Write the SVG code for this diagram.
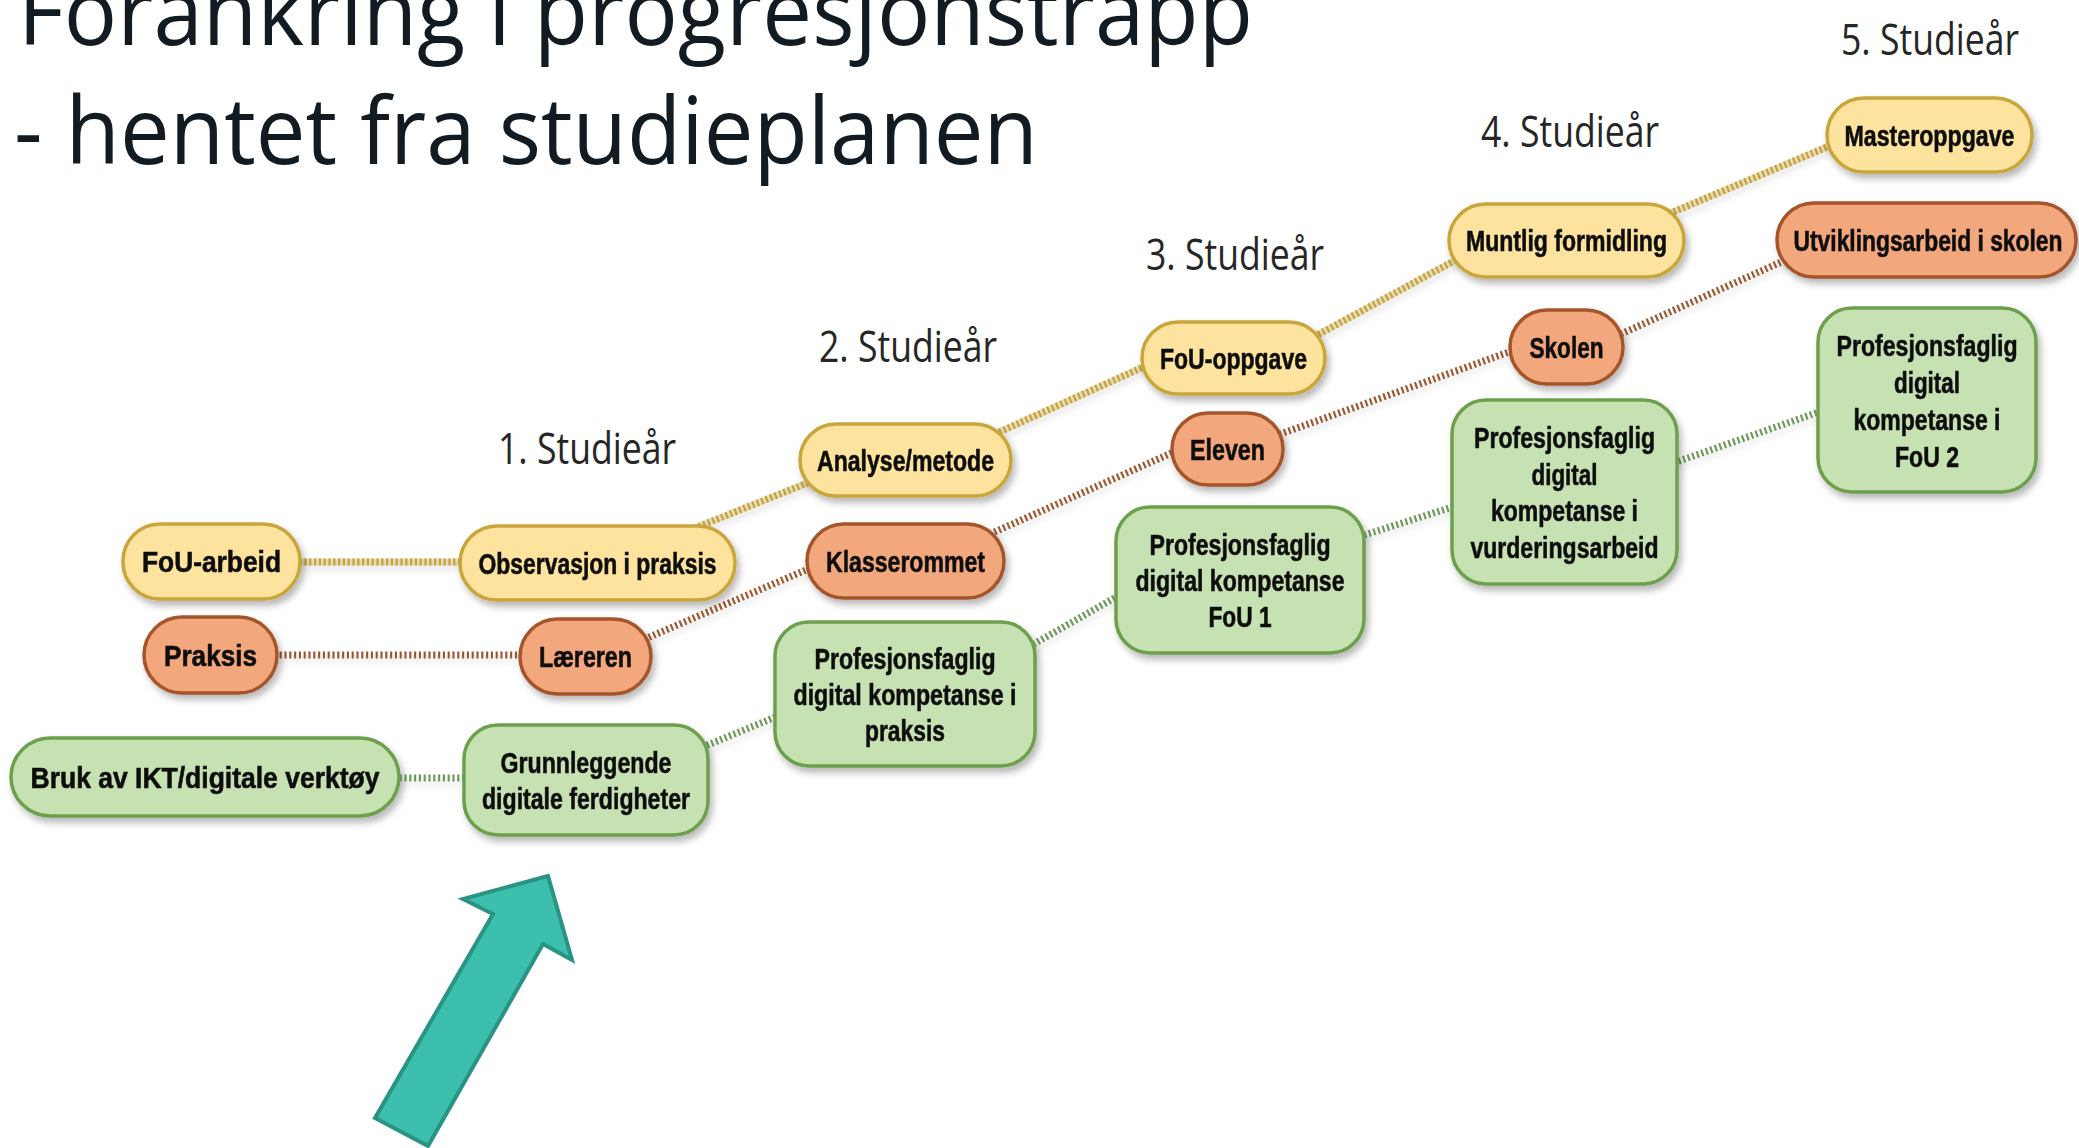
<svg xmlns="http://www.w3.org/2000/svg" width="2079" height="1148" viewBox="0 0 2079 1148">
<defs>
<style>
.title{font-family:"Open Sans","Noto Sans",sans-serif;font-size:94px;fill:#121a22}
.year{font-family:"Open Sans","Noto Sans",sans-serif;font-size:43px;fill:#262626;text-anchor:middle}
.lbl{font-family:"Liberation Sans",Arial,sans-serif;font-weight:bold;font-size:29px;fill:#111;stroke:#111;stroke-width:0.6;text-anchor:middle}
.ny{fill:#fde39e;stroke:#c8a63a;stroke-width:3.5}
.no{fill:#f3a77b;stroke:#a5542c;stroke-width:3.5}
.ng{fill:#c6e2b3;stroke:#6e9f4e;stroke-width:3.5}
.cy{stroke:#c4a23c}
.co{stroke:#9c5a34}
.cg{stroke:#6f9a5c}
.c line{stroke-width:7;stroke-dasharray:2.2 2.6;fill:none}
.u line{stroke-width:7;fill:none;opacity:0.35}
</style>
<filter id="sh" x="-20%" y="-20%" width="140%" height="150%">
<feDropShadow dx="3" dy="5" stdDeviation="3.5" flood-color="#000" flood-opacity="0.28"/>
</filter>
<filter id="lsh" x="-10%" y="-50%" width="120%" height="200%">
<feDropShadow dx="2" dy="5" stdDeviation="3" flood-color="#000" flood-opacity="0.12"/>
</filter>
</defs>
<rect width="2079" height="1148" fill="#fff"/>

<g id="title">
<text class="title" x="18" y="45" textLength="1235" lengthAdjust="spacingAndGlyphs">Forankring i progresjonstrapp</text>
<text class="title" x="14" y="164" textLength="1024" lengthAdjust="spacingAndGlyphs">- hentet fra studieplanen</text>
</g>

<g id="years">
<text class="year" x="587" y="464" textLength="178" lengthAdjust="spacingAndGlyphs">1. Studieår</text>
<text class="year" x="908" y="362" textLength="178" lengthAdjust="spacingAndGlyphs">2. Studieår</text>
<text class="year" x="1235" y="270" textLength="178" lengthAdjust="spacingAndGlyphs">3. Studieår</text>
<text class="year" x="1570" y="147" textLength="178" lengthAdjust="spacingAndGlyphs">4. Studieår</text>
<text class="year" x="1930" y="55" textLength="178" lengthAdjust="spacingAndGlyphs">5. Studieår</text>
</g>

<g id="connectors" filter="url(#lsh)">
<g class="u">
<line class="cy" x1="290" y1="562" x2="470" y2="562"/>
<line class="cy" x1="690" y1="530" x2="815" y2="480"/>
<line class="cy" x1="995" y1="434" x2="1150" y2="364"/>
<line class="cy" x1="1310" y1="339" x2="1465" y2="255"/>
<line class="cy" x1="1665" y1="215.5" x2="1840" y2="141.5"/>
</g>
<g class="c">
<line class="cy" x1="290" y1="562" x2="470" y2="562"/>
<line class="cy" x1="690" y1="530" x2="815" y2="480"/>
<line class="cy" x1="995" y1="434" x2="1150" y2="364"/>
<line class="cy" x1="1310" y1="339" x2="1465" y2="255"/>
<line class="cy" x1="1665" y1="215.5" x2="1840" y2="141.5"/>
<line class="co" x1="270" y1="655" x2="530" y2="655"/>
<line class="co" x1="640" y1="641" x2="820" y2="564"/>
<line class="co" x1="990" y1="534" x2="1185" y2="447"/>
<line class="co" x1="1275" y1="436" x2="1520" y2="348"/>
<line class="co" x1="1612" y1="338" x2="1790" y2="258"/>
<line class="cg" x1="390" y1="778" x2="475" y2="778"/>
<line class="cg" x1="698" y1="749" x2="790" y2="711"/>
<line class="cg" x1="1025" y1="649" x2="1125" y2="592"/>
<line class="cg" x1="1355" y1="538" x2="1462" y2="504"/>
<line class="cg" x1="1665" y1="466" x2="1830" y2="408"/>
</g>
</g>

<g id="n-fou-arbeid" filter="url(#sh)">
<rect class="ny" x="123" y="524" width="177" height="75" rx="37"/>
<text class="lbl" x="211.5" y="572" textLength="139" lengthAdjust="spacingAndGlyphs">FoU-arbeid</text>
</g>
<g id="n-observasjon" filter="url(#sh)">
<rect class="ny" x="460" y="526" width="275" height="74" rx="37"/>
<text class="lbl" x="597.5" y="573.5" textLength="238" lengthAdjust="spacingAndGlyphs">Observasjon i praksis</text>
</g>
<g id="n-analyse" filter="url(#sh)">
<rect class="ny" x="800" y="424" width="211" height="72" rx="36"/>
<text class="lbl" x="905.5" y="470.5" textLength="177" lengthAdjust="spacingAndGlyphs">Analyse/metode</text>
</g>
<g id="n-fou-oppgave" filter="url(#sh)">
<rect class="ny" x="1142" y="322" width="183" height="72" rx="36"/>
<text class="lbl" x="1233.5" y="368.5" textLength="147" lengthAdjust="spacingAndGlyphs">FoU-oppgave</text>
</g>
<g id="n-muntlig" filter="url(#sh)">
<rect class="ny" x="1449" y="204" width="235" height="73" rx="36.5"/>
<text class="lbl" x="1566.5" y="251" textLength="201" lengthAdjust="spacingAndGlyphs">Muntlig formidling</text>
</g>
<g id="n-master" filter="url(#sh)">
<rect class="ny" x="1827" y="98" width="205" height="74" rx="37"/>
<text class="lbl" x="1929.5" y="145.5" textLength="170" lengthAdjust="spacingAndGlyphs">Masteroppgave</text>
</g>

<g id="n-praksis" filter="url(#sh)">
<rect class="no" x="144" y="617" width="133" height="76" rx="38"/>
<text class="lbl" x="210.5" y="665.5" textLength="93" lengthAdjust="spacingAndGlyphs">Praksis</text>
</g>
<g id="n-laereren" filter="url(#sh)">
<rect class="no" x="520" y="619" width="131" height="75" rx="37.5"/>
<text class="lbl" x="585.5" y="667" textLength="93" lengthAdjust="spacingAndGlyphs">Læreren</text>
</g>
<g id="n-klasserommet" filter="url(#sh)">
<rect class="no" x="807" y="524" width="197" height="74" rx="37"/>
<text class="lbl" x="905.5" y="571.5" textLength="159" lengthAdjust="spacingAndGlyphs">Klasserommet</text>
</g>
<g id="n-eleven" filter="url(#sh)">
<rect class="no" x="1172" y="413" width="111" height="72" rx="36"/>
<text class="lbl" x="1227.5" y="459.5" textLength="75" lengthAdjust="spacingAndGlyphs">Eleven</text>
</g>
<g id="n-skolen" filter="url(#sh)">
<rect class="no" x="1510" y="310" width="113" height="74" rx="37"/>
<text class="lbl" x="1566.5" y="357.5" textLength="74" lengthAdjust="spacingAndGlyphs">Skolen</text>
</g>
<g id="n-utvikling" filter="url(#sh)">
<rect class="no" x="1777" y="203" width="299" height="74" rx="37"/>
<text class="lbl" x="1928" y="250.5" textLength="269" lengthAdjust="spacingAndGlyphs">Utviklingsarbeid i skolen</text>
</g>

<g id="n-bruk-ikt" filter="url(#sh)">
<rect class="ng" x="11" y="738" width="388" height="78" rx="39"/>
<text class="lbl" x="205" y="787.5" textLength="349" lengthAdjust="spacingAndGlyphs">Bruk av IKT/digitale verktøy</text>
</g>
<g id="n-grunnleggende" filter="url(#sh)">
<rect class="ng" x="464" y="725" width="244" height="110" rx="34"/>
<text class="lbl" x="586" y="772.5" textLength="171" lengthAdjust="spacingAndGlyphs">Grunnleggende</text>
<text class="lbl" x="586" y="808.5" textLength="208" lengthAdjust="spacingAndGlyphs">digitale ferdigheter</text>
</g>
<g id="n-pdk-praksis" filter="url(#sh)">
<rect class="ng" x="775" y="622" width="260" height="144" rx="34"/>
<text class="lbl" x="905" y="668.5" textLength="181" lengthAdjust="spacingAndGlyphs">Profesjonsfaglig</text>
<text class="lbl" x="905" y="704.5" textLength="223" lengthAdjust="spacingAndGlyphs">digital kompetanse i</text>
<text class="lbl" x="905" y="740.5" textLength="80" lengthAdjust="spacingAndGlyphs">praksis</text>
</g>
<g id="n-pdk-fou1" filter="url(#sh)">
<rect class="ng" x="1116" y="507" width="248" height="146" rx="34"/>
<text class="lbl" x="1240" y="554.5" textLength="181" lengthAdjust="spacingAndGlyphs">Profesjonsfaglig</text>
<text class="lbl" x="1240" y="590.5" textLength="209" lengthAdjust="spacingAndGlyphs">digital kompetanse</text>
<text class="lbl" x="1240" y="626.5" textLength="63" lengthAdjust="spacingAndGlyphs">FoU 1</text>
</g>
<g id="n-pdk-vurdering" filter="url(#sh)">
<rect class="ng" x="1452" y="400" width="225" height="184" rx="34"/>
<text class="lbl" x="1564.5" y="448" textLength="181" lengthAdjust="spacingAndGlyphs">Profesjonsfaglig</text>
<text class="lbl" x="1564.5" y="484.5" textLength="66" lengthAdjust="spacingAndGlyphs">digital</text>
<text class="lbl" x="1564.5" y="521" textLength="147" lengthAdjust="spacingAndGlyphs">kompetanse i</text>
<text class="lbl" x="1564.5" y="557.5" textLength="188" lengthAdjust="spacingAndGlyphs">vurderingsarbeid</text>
</g>
<g id="n-pdk-fou2" filter="url(#sh)">
<rect class="ng" x="1818" y="308" width="218" height="184" rx="34"/>
<text class="lbl" x="1927" y="355.5" textLength="181" lengthAdjust="spacingAndGlyphs">Profesjonsfaglig</text>
<text class="lbl" x="1927" y="392.5" textLength="66" lengthAdjust="spacingAndGlyphs">digital</text>
<text class="lbl" x="1927" y="429.5" textLength="147" lengthAdjust="spacingAndGlyphs">kompetanse i</text>
<text class="lbl" x="1927" y="466.5" textLength="64" lengthAdjust="spacingAndGlyphs">FoU 2</text>
</g>

<g id="pointer-arrow">
<polygon points="548,876 572,960 543,944 428,1146 375,1118 493,914 463,899" fill="#3dbfad" stroke="#2a9484" stroke-width="4" stroke-linejoin="miter"/>
</g>
</svg>
